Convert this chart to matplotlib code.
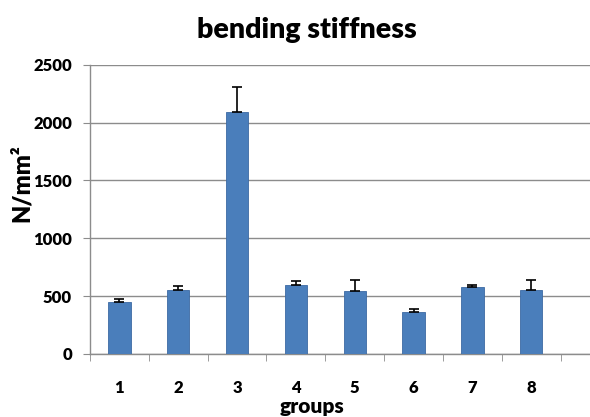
import matplotlib
matplotlib.use("Agg")
import matplotlib.pyplot as plt
import numpy as np

groups = ["1", "2", "3", "4", "5", "6", "7", "8"]
means = [447, 553, 2090, 600, 542, 366, 577, 553]
errors = [26, 35, 220, 31, 101, 20, 20, 90]
yticks = [0, 500, 1000, 1500, 2000, 2500]

font = "Lato"
fig = plt.figure(figsize=(5.9, 4.17), dpi=100)
ax = fig.add_axes([90/590, 63/417, 1 - 90/590, (354-64.7)/417])

x = np.arange(len(groups))
ax.bar(x, means, width=0.38, color="#4A7EBB", edgecolor="#3C6AA3", linewidth=0.6, zorder=3)
ax.errorbar(x, means, yerr=[np.zeros(len(errors)), errors], fmt="none",
            ecolor="black", elinewidth=1.2, capsize=3.5, capthick=1.2, zorder=4)

ax.set_xlim(-0.5, 8.0)
ax.set_ylim(0, 2500)
ax.set_yticks(yticks)
ax.set_yticklabels([str(v) for v in yticks], fontfamily=font, fontweight="heavy", fontsize=12)
ax.set_xticks(x)
ax.set_xticklabels(groups, fontfamily=font, fontweight="heavy", fontsize=12)
ax.tick_params(axis="x", which="major", length=0, pad=19)
ax.set_xticks(np.arange(-0.5, 8.0, 1.0), minor=True)
ax.tick_params(axis="x", which="minor", length=5, color="#8C8C8C", direction="out")
ax.tick_params(axis="y", length=5, color="#8C8C8C", direction="out", pad=8)

ax.grid(axis="y", color="#8C8C8C", linewidth=1.0, zorder=0)
for s in ["top", "right"]:
    ax.spines[s].set_visible(False)
for s in ["left", "bottom"]:
    ax.spines[s].set_color("#8C8C8C")
    ax.spines[s].set_linewidth(1.0)

fig.text(0.52, 1 - 30/417, "bending stiffness", ha="center", va="center",
         fontfamily=font, fontweight="heavy", fontsize=20.5)
fig.text(22/590, 1 - 183/417, "N/mm²", ha="center", va="center", rotation=90,
         fontfamily=font, fontweight="heavy", fontsize=17)
fig.text(312/590, 1 - 416/417, "groups", ha="center", va="bottom",
         fontfamily=font, fontweight="heavy", fontsize=15)

fig.savefig("out.png", dpi=100)
